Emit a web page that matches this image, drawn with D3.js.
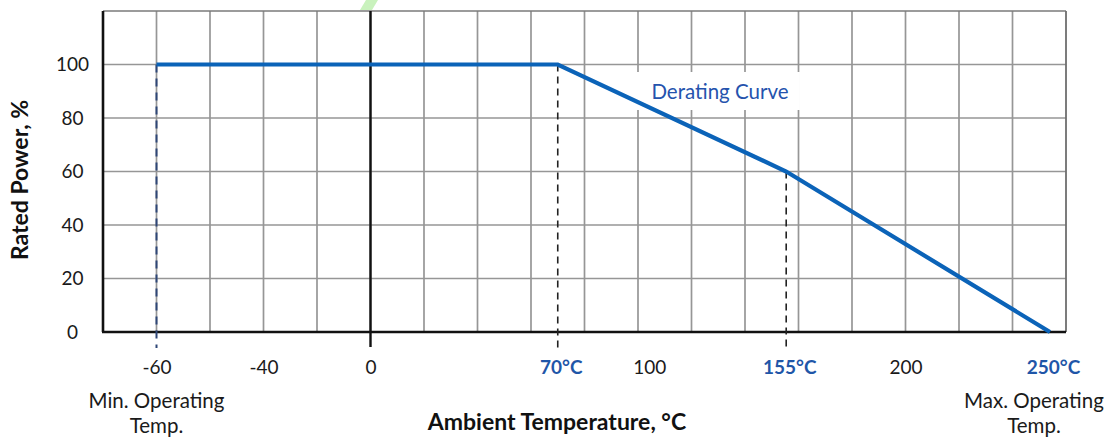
<!DOCTYPE html>
<html>
<head>
<meta charset="utf-8">
<script src="https://cdn.jsdelivr.net/npm/d3@7"></script>
<style>
  html, body { margin: 0; padding: 0; background: #fff; }
  svg { display: block; font-family: Lato, "Open Sans", sans-serif; }
</style>
</head>
<body>
<svg id="chart" width="1113" height="439"></svg>
<script>
// ---- data ----
const curveTemps = [-60, 70, 155, 250];
const curvePower = [100, 100, 60, 0];
const xTickValues = [-60, -40, 0, 70, 100, 155, 200, 250];
const xTickLabels = ["-60", "-40", "0", "70°C", "100", "155°C", "200", "250°C"];
const xHighlighted = [70, 155, 250];
const yTickValues = [0, 20, 40, 60, 80, 100];
const yGridValues = [20, 40, 60, 80, 100, 120];
const markerTemps = [-60, 70, 155];
const markerPower = [100, 100, 60];
const gridCount = 18;
// schematic (non-linear) axis: temperature anchors placed on grid columns
const tempAnchors = [-60, -40, 0, 70, 100, 155, 200, 250];
const gridAnchors = [1, 3, 5, 8.5, 10.1, 12.77, 15, 17.7];

// ---- layout ----
const mLeft = 103, mRight = 1066, mTop = 11, mBottom = 332;
const svg = d3.select("#chart");

const gridX = d3.scaleLinear().domain([0, gridCount]).range([mLeft, mRight]);
const x = d3.scaleLinear().domain(tempAnchors).range(gridAnchors.map(g => gridX(g)));
const y = d3.scaleLinear().domain([0, 120]).range([mBottom, mTop]);

// watermark fragment
svg.append("path")
  .attr("d", "M366,0 L378,0 L372,10 L360,10 Z")
  .attr("fill", "#c9f2bd");

// vertical grid lines
svg.append("g").selectAll("line")
  .data(d3.range(1, gridCount))
  .join("line")
  .attr("x1", d => gridX(d)).attr("x2", d => gridX(d))
  .attr("y1", mTop).attr("y2", mBottom)
  .attr("stroke", "#969696").attr("stroke-width", 1.7);

// horizontal grid lines
svg.append("g").selectAll("line")
  .data(yGridValues)
  .join("line")
  .attr("x1", mLeft).attr("x2", mRight)
  .attr("y1", d => y(d)).attr("y2", d => y(d))
  .attr("stroke", d => d === 120 ? "#7a7a7a" : "#969696")
  .attr("stroke-width", 1.7);

// right border
svg.append("line")
  .attr("x1", mRight).attr("x2", mRight).attr("y1", mTop).attr("y2", mBottom)
  .attr("stroke", "#6e6e6e").attr("stroke-width", 1.8);

// zero line + tick
svg.append("line")
  .attr("x1", x(0)).attr("x2", x(0)).attr("y1", mTop).attr("y2", mBottom + 15)
  .attr("stroke", "#111").attr("stroke-width", 2.4);

// left border and bottom axis line
svg.append("line")
  .attr("x1", mLeft).attr("x2", mLeft).attr("y1", mTop).attr("y2", mBottom)
  .attr("stroke", "#111").attr("stroke-width", 2.6);
svg.append("line")
  .attr("x1", mLeft - 1).attr("x2", mRight).attr("y1", mBottom).attr("y2", mBottom)
  .attr("stroke", "#111").attr("stroke-width", 2.6);

// label background box (hides grid)
const labelX = x(70) + (x(155) - x(70)) * 0.71;
svg.append("rect")
  .attr("x", labelX - 86).attr("y", 72).attr("width", 166).attr("height", 38)
  .attr("fill", "#fff");

// dashed marker lines
svg.append("g").selectAll("line")
  .data(markerTemps.map((t, i) => ({ t, p: markerPower[i] })))
  .join("line")
  .attr("x1", d => x(d.t)).attr("x2", d => x(d.t))
  .attr("y1", d => y(d.p)).attr("y2", mBottom + 16)
  .attr("stroke", d => d.t === -60 ? "#2e4677" : "#222")
  .attr("stroke-width", d => d.t === -60 ? 2 : 1.6)
  .attr("stroke-dasharray", d => d.t === -60 ? "8,6" : "7,5");

// derating curve
const pts = curveTemps.map((t, i) => [t, curvePower[i]]);
svg.append("path")
  .datum(pts)
  .attr("d", d3.line().x(d => x(d[0])).y(d => y(d[1])))
  .attr("fill", "none")
  .attr("stroke", "#0b63b8")
  .attr("stroke-width", 4.2)
  .attr("stroke-linejoin", "miter");

svg.append("text")
  .attr("x", labelX).attr("y", 99)
  .attr("text-anchor", "middle")
  .attr("font-size", 20.5)
  .attr("fill", "#2553ad")
  .text("Derating Curve");

// y axis labels
const yAxis = svg.append("g")
  .attr("transform", `translate(${mLeft},0)`)
  .call(d3.axisLeft(y).tickValues(yTickValues).tickSize(0).tickPadding(0));
yAxis.select(".domain").remove();
yAxis.selectAll("text")
  .attr("x", 72.5 - mLeft)
  .attr("text-anchor", "middle")
  .attr("font-size", 19)
  .attr("font-family", "Lato, sans-serif")
  .attr("fill", "#1a1a1a");

// x axis labels
const xAxis = svg.append("g")
  .attr("transform", `translate(0,${mBottom})`)
  .call(d3.axisBottom(x).tickValues(xTickValues).tickSize(0).tickPadding(0)
    .tickFormat((d, i) => xTickLabels[i]));
xAxis.select(".domain").remove();
xAxis.selectAll("text")
  .attr("y", 35)
  .attr("dy", "0.35em")
  .attr("font-size", 19)
  .attr("font-family", "Lato, sans-serif")
  .attr("font-weight", d => xHighlighted.includes(d) ? "bold" : "normal")
  .attr("fill", d => xHighlighted.includes(d) ? "#1f56a8" : "#1a1a1a")
  .attr("dx", d => xHighlighted.includes(d) ? 3 : (d === 100 ? 6 : 0));

// min / max operating temp notes
const notes = [
  { t: -60, lines: ["Min. Operating", "Temp."], dx: 0 },
  { t: 250, lines: ["Max. Operating", "Temp."], dx: -16 }
];
notes.forEach(n => {
  const g = svg.append("text")
    .attr("text-anchor", "middle")
    .attr("font-size", 20.5)
    .attr("fill", "#1a1a1a");
  n.lines.forEach((l, i) => {
    g.append("tspan")
      .attr("x", x(n.t) + n.dx)
      .attr("y", 408 + i * 25)
      .text(l);
  });
});

// axis titles
svg.append("text")
  .attr("x", 557).attr("y", 430)
  .attr("text-anchor", "middle")
  .attr("font-size", 23)
  .attr("font-weight", "bold")
  .attr("fill", "#111")
  .text("Ambient Temperature, °C");

svg.append("text")
  .attr("transform", "translate(28,180) rotate(-90)")
  .attr("text-anchor", "middle")
  .attr("font-size", 23)
  .attr("font-weight", "bold")
  .attr("fill", "#111")
  .text("Rated Power, %");
</script>
</body>
</html>
